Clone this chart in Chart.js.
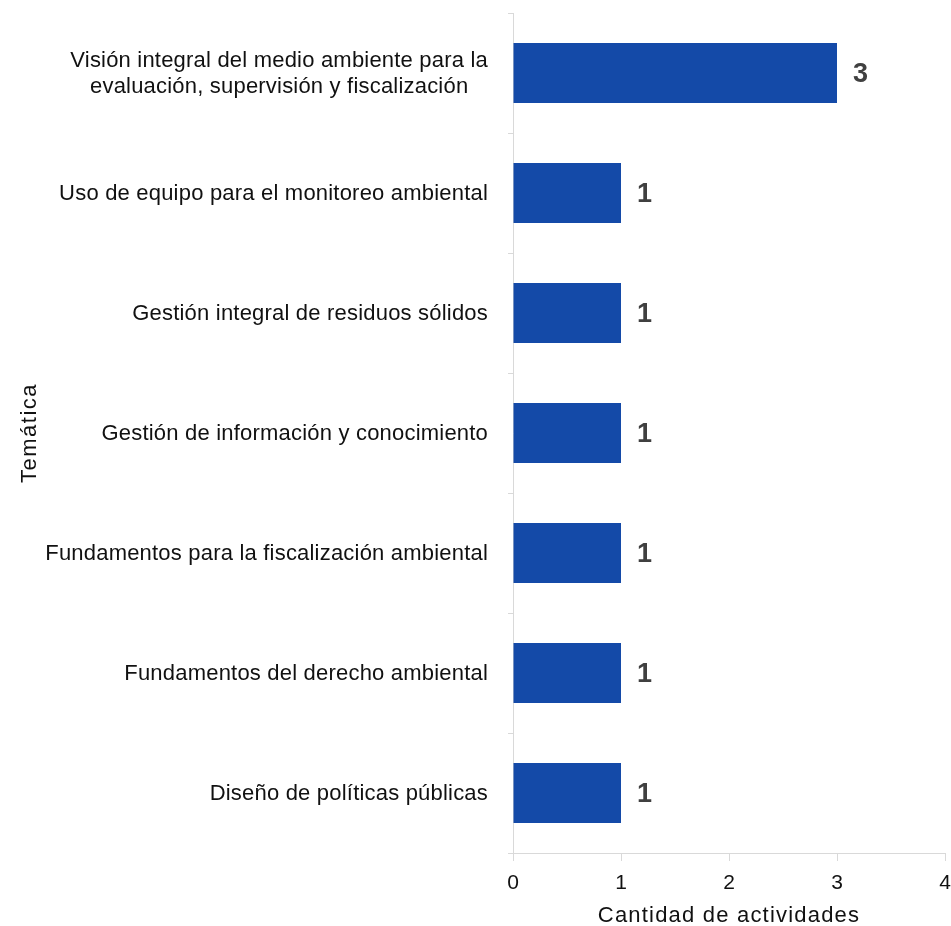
<!DOCTYPE html>
<html>
<head>
<meta charset="utf-8">
<script src="https://cdn.jsdelivr.net/npm/chart.js@4/dist/chart.umd.min.js"></script>
<style>
html,body{margin:0;padding:0;background:#fff;}
#wrap{width:951px;height:926px;position:relative;}
</style>
</head>
<body>
<div id="wrap"><canvas id="c" width="951" height="926"></canvas></div>
<script>
const categories = [
  ["Visión integral del medio ambiente para la", "evaluación, supervisión y fiscalización"],
  ["Uso de equipo para el monitoreo ambiental"],
  ["Gestión integral de residuos sólidos"],
  ["Gestión de información y conocimiento"],
  ["Fundamentos para la fiscalización ambiental"],
  ["Fundamentos del derecho ambiental"],
  ["Diseño de políticas públicas"]
];
const values = [3, 1, 1, 1, 1, 1, 1];
const xTicks = [0, 1, 2, 3, 4];
const xTitle = "Cantidad de actividades";
const yTitle = "Temática";

const FONT = "'Liberation Sans', Arial, sans-serif";

const valueLabels = {
  id: 'valueLabels',
  afterDatasetsDraw(chart) {
    const ctx = chart.ctx;
    const meta = chart.getDatasetMeta(0);
    ctx.save();
    ctx.font = "bold 27px " + FONT;
    ctx.fillStyle = "#404040";
    ctx.textAlign = "left";
    ctx.textBaseline = "middle";
    meta.data.forEach((bar, i) => {
      ctx.fillText(String(values[i]), bar.x + 16, bar.y + 2);
    });
    ctx.restore();
  }
};

const textLayer = {
  id: 'textLayer',
  afterDraw(chart) {
    const ctx = chart.ctx;
    const ys = chart.scales.y;
    const xs = chart.scales.x;
    const rightEdge = ys.right - 25;
    const lh = 26;
    ctx.save();
    ctx.font = "22px " + FONT;
    ctx.letterSpacing = "0.2px";
    ctx.fillStyle = "#111111";
    ctx.textAlign = "center";
    ctx.textBaseline = "middle";
    categories.forEach((lines, i) => {
      const yc = ys.getPixelForValue(i) + 1;
      const w = Math.max(...lines.map(l => ctx.measureText(l).width));
      const cx = rightEdge - w / 2;
      const y0 = yc - (lines.length - 1) * lh / 2;
      lines.forEach((l, k) => ctx.fillText(l, cx, y0 + k * lh));
    });
    // x axis title
    ctx.letterSpacing = "1.2px";
    ctx.fillText(xTitle, (xs.left + xs.right) / 2, 916);
    // y axis title
    ctx.translate(30, (ys.top + ys.bottom) / 2);
    ctx.rotate(-Math.PI / 2);
    ctx.letterSpacing = "1.5px";
    ctx.fillText(yTitle, 0, 0);
    ctx.restore();
  }
};

new Chart(document.getElementById('c'), {
  type: 'bar',
  data: {
    labels: categories,
    datasets: [{
      data: values,
      backgroundColor: '#144aa8',
      borderWidth: 0,
      barPercentage: 0.5,
      categoryPercentage: 1.0
    }]
  },
  options: {
    indexAxis: 'y',
    responsive: false,
    animation: false,
    devicePixelRatio: 1,
    layout: { padding: { top: 13, right: 0, left: 0, bottom: 0 } },
    plugins: { legend: { display: false }, tooltip: { enabled: false } },
    scales: {
      x: {
        type: 'linear',
        min: xTicks[0],
        max: xTicks[xTicks.length - 1],
        afterBuildTicks(scale) { scale.ticks = xTicks.map(v => ({ value: v })); },
        afterFit(scale) { scale.height = 73; scale.paddingRight = 6; },
        border: { color: '#d9d9d9', width: 1 },
        grid: { drawOnChartArea: false, drawTicks: true, tickLength: 8, color: '#d9d9d9' },
        ticks: { color: '#111111', font: { family: FONT, size: 21 }, padding: 10, maxRotation: 0 },
        title: { display: false, text: xTitle }
      },
      y: {
        type: 'category',
        afterFit(scale) { scale.width = 513; },
        border: { color: '#d9d9d9', width: 1 },
        grid: { drawOnChartArea: false, drawTicks: true, tickLength: 5, color: '#d9d9d9', offset: true },
        ticks: { display: false },
        title: { display: false, text: yTitle }
      }
    }
  },
  plugins: [valueLabels, textLayer]
});
</script>
</body>
</html>
